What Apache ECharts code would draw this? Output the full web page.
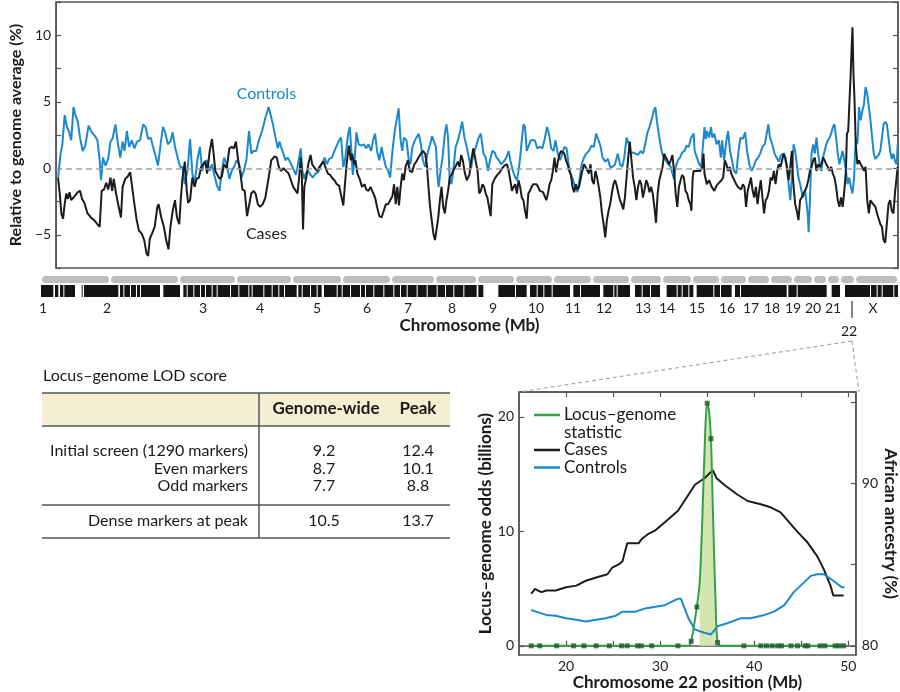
<!DOCTYPE html>
<html>
<head>
<meta charset="utf-8">
<script src="https://cdn.jsdelivr.net/npm/echarts@6/dist/echarts.min.js"></script>
<style>
html,body{margin:0;padding:0;background:#fff;}
#chart{width:900px;height:692px;}
</style>
</head>
<body>
<div id="chart"></div>
<script>
// ---------------- DATA ----------------
// Top panel: genome-wide admixture (relative to genome average, %), position along concatenated genome
const controlsData = [[6,-0.7],[13,1.0],[19,1.8],[26,4.0],[33,3.1],[39,2.8],[46,2.1],[53,4.6],[59,4.0],[66,3.5],[73,2.3],[81,1.3],[89,1.7],[99,3.2],[109,2.7],[119,2.4],[126,2.1],[133,0.6],[137,-0.9],[143,0.8],[151,0.2],[159,0.7],[166,2.0],[173,2.3],[181,3.3],[189,1.8],[196,0.8],[203,2.0],[209,1.3],[216,2.8],[223,1.6],[231,2.1],[239,1.5],[247,2.0],[256,2.1],[266,3.3],[273,3.1],[281,2.2],[289,2.3],[296,1.6],[303,1.0],[311,0.2],[319,1.8],[326,3.1],[333,2.7],[341,1.8],[349,2.0],[356,2.7],[363,1.6],[371,0.8],[379,0.1],[386,0.1],[393,-1.2],[401,-0.2],[409,2.2],[416,-0.4],[423,-1.2],[431,0.6],[439,1.6],[446,-0.2],[453,0.5],[461,0.6],[469,-0.2],[476,0.3],[483,-0.5],[491,-1.3],[499,-1.7],[506,-0.2],[513,0.8],[521,0.3],[529,-0.8],[536,-0.2],[543,0.1],[551,0.6],[559,0.3],[566,-0.7],[573,-0.2],[581,0.6],[589,2.8],[596,1.1],[603,1.3],[611,1.3],[619,2.1],[629,2.8],[639,3.8],[649,4.6],
[654,4.6],[662,3.3],[670,2.3],[677,1.5],[682,2.0],[687,1.6],[694,1.1],[700,0.6],[707,0.8],[714,0.5],[720,0.6],[727,-0.2],[732,-0.5],[737,0.1],[742,0.8],[747,1.5],[752,-0.2],[757,-0.8],[762,-0.4],[770,-0.2],[777,-0.5],[784,-0.7],[792,-0.4],[800,-0.3],[807,0.1],[814,0.5],[820,0.8],[827,0.3],[834,0.7],[842,0.8],[850,1.3],[857,1.7],[864,2.1],[870,2.3],[877,0.1],[882,0.6],[887,1.6],[892,2.6],[897,3.1],[902,3.2],[906,-0.5],[912,0.8],[917,2.7],[924,1.8],[932,1.7],[940,1.8],[947,1.5],[954,1.8],[962,1.3],[968,2.1],[974,2.6],[980,1.3],[987,0.6],[994,1.6],[1000,0.8],[1007,0.1],[1014,-0.2],[1020,-0.7],[1027,1.3],[1034,2.8],[1040,2.7],[1046,4.5],[1052,2.1],[1057,1.3],[1062,2.3],[1070,2.1],[1077,0.6],[1082,0.3],[1088,1.6],[1094,2.0],[1100,2.3],[1107,2.6],[1114,1.8],[1120,0.6],[1127,0.1],[1134,1.1],[1142,1.8],[1148,2.4],[1154,2.3],[1160,1.6],[1164,-0.4],[1168,-1.4],[1174,-0.2],[1180,0.8],[1187,2.6],[1192,3.3],[1197,2.3],[1202,-0.9],[1207,-1.2],[1212,-0.4],[1220,1.6],[1227,2.1],[1234,2.8],[1240,3.5],[1247,2.3],[1254,1.6],[1262,0.6],[1267,0],[1274,1.0],[1282,1.6],[1290,2.3],[1297,2.6],
[1305,1.1],[1312,0.8],[1319,-0.2],[1325,0.6],[1332,1.3],[1339,1.2],[1345,0.8],[1352,0.6],[1359,0.3],[1367,0.5],[1375,0.8],[1382,1.3],[1387,0.6],[1395,-0.2],[1402,-0.7],[1407,-0.9],[1412,-0.2],[1417,0.8],[1422,2.1],[1427,3.3],[1432,3.1],[1437,1.3],[1442,1.6],[1449,2.1],[1455,2.2],[1462,2.1],[1469,1.5],[1477,1.6],[1485,1.5],[1492,2.2],[1499,3.1],[1505,2.6],[1512,1.5],[1519,1.3],[1525,2.1],[1532,1.1],[1539,0.6],[1545,1.0],[1552,1.6],[1559,1.5],[1565,0.3],[1572,-0.5],[1579,-0.9],[1585,-1.4],[1592,-1.8],[1599,-0.7],[1605,0.3],[1612,0.8],[1619,1.1],[1627,1.3],[1635,1.7],[1642,1.6],[1649,2.6],[1655,2.6],[1662,1.7],[1669,0.8],[1677,0.5],[1685,0.7],[1692,0.1],[1699,0.1],[1707,0.3],[1715,1.1],[1722,0.3],[1729,0.1],[1735,0.8],[1742,2.3],[1749,1.8],[1755,1.1],[1762,1.2],[1769,1.1],[1777,1.0],[1785,1.3],[1792,1.1],[1799,1.8],[1805,2.6],[1812,3.1],[1819,3.7],[1825,4.3],[1830,4.6],[1835,3.5],[1842,2.3],[1849,1.3],[1855,0.8],[1862,0.6],[1869,0.3],[1877,0.1],[1882,-0.4],[1887,-0.8],[1892,0.1],[1899,0.6],[1905,0.8],[1912,1.2],[1919,1.3],[1925,1.7],[1932,1.6],[1939,2.3],[1947,2.6],
[1950,1.3],[1957,0.8],[1964,0.3],[1970,0.1],[1974,1.3],[1980,3.1],[1984,2.2],[1988,2.8],[1994,2.3],[2000,3.1],[2004,2.3],[2010,2.6],[2017,1.8],[2024,2.1],[2030,0.8],[2034,2.1],[2040,0.6],[2047,2.1],[2052,2.8],[2058,1.3],[2064,0.6],[2070,-0.2],[2077,-0.4],[2084,1.3],[2090,2.3],[2097,2.2],[2104,2.7],[2110,1.3],[2117,0.3],[2124,-0.2],[2130,0.1],[2137,0.6],[2144,0.8],[2150,1.1],[2157,1.6],[2164,1.8],[2170,2.6],[2175,3.3],[2180,2.3],[2187,1.8],[2194,1.1],[2200,0.8],[2207,0.5],[2214,1.0],[2222,1.1],[2230,0.3],[2237,-1.2],[2242,-2.4],[2247,-0.7],[2252,1.8],[2257,1.3],[2262,0.3],[2267,-0.7],[2274,-1.4],[2280,-2.2],[2287,-1.7],[2292,-2.7],[2296,-3.7],[2298,-4.8],[2302,-2.4],[2307,1.1],[2312,1.8],[2317,1.1],[2322,2.3],[2327,1.1],[2332,0.3],[2337,-0.2],[2342,0.8],[2347,1.3],[2352,1.8],[2357,2.1],[2362,2.3],[2367,2.6],[2372,3.1],[2377,3.3],[2382,2.3],[2387,1.1],[2392,0.3],[2397,0.8],[2402,1.3],[2407,0.6],[2412,-0.2],[2417,-1.2],[2422,-0.7],[2427,-1.4],[2432,-1.9],[2437,-0.7],[2440,1.3],[2444,2.3],[2447,1.8],[2452,4.6],[2457,3.6],[2462,4.3],[2467,4.8],[2472,6.1],[2477,5.6],[2482,4.6],[2487,3.6],[2492,2.3],[2497,1.1],[2502,0.7],[2507,0.8],[2512,1.0],[2517,1.3],[2522,2.3],[2527,3.3],[2532,3.5],[2537,3.3],[2542,2.3],[2547,1.3],[2552,0.7],[2557,1.1],[2562,0.5],[2567,0.3],[2570,1.8]];

const casesData = [[6,-0.7],[11,-1.9],[16,-3.4],[21,-3.8],[26,-2.7],[31,-1.9],[36,-2.3],[41,-1.8],[46,-2.4],[53,-2.2],[59,-2.3],[66,-1.8],[73,-1.7],[79,-2.3],[86,-2.6],[96,-3.4],[106,-3.7],[116,-3.9],[126,-4.2],[133,-4.4],[139,-1.7],[146,-1.6],[153,-1.1],[159,-1.6],[166,-0.7],[171,-1.7],[176,-0.8],[183,-1.9],[191,-2.9],[198,-3.7],[203,-1.4],[211,-0.8],[219,-0.6],[226,-0.3],[231,-1.2],[239,-2.7],[246,-3.9],[253,-4.7],[261,-4.9],[269,-5.4],[276,-6.4],[281,-6.6],[286,-5.3],[293,-4.9],[301,-4.4],[309,-2.9],[313,-2.7],[321,-3.7],[329,-4.4],[336,-5.4],[343,-6.1],[349,-4.4],[356,-3.2],[363,-2.4],[369,-3.7],[376,-4.2],[381,-2.2],[386,-0.7],[393,0.5],[399,-1.7],[403,-2.6],[409,-2.4],[416,-0.7],[423,-1.4],[429,-0.8],[436,-0.7],[443,0.1],[449,0.3],[456,0.5],[461,-0.4],[469,1.3],[476,2.2],[481,1.1],[486,-0.2],[491,-0.2],[499,-0.8],[506,-0.6],[513,0.3],[521,0],[529,1.5],[536,1.6],[543,1.5],[549,2.0],[556,0.6],[563,-0.4],[569,-1.6],[576,-1.7],[583,-3.6],[589,-3.7],[596,-1.9],[603,-1.7],[609,-1.9],[616,-2.7],[623,-2.9],[631,-2.7],[639,-2.2],[649,-0.7],
[657,0.6],[667,0.9],[674,0.8],[680,0.1],[687,-0.2],[694,0],[702,-0.2],[710,-0.4],[717,-0.9],[724,-1.4],[730,-1.4],[737,-1.9],[742,-0.7],[747,0.8],[750,-0.2],[754,-4.6],[758,-1.4],[764,-0.7],[770,0.3],[777,1.0],[782,0.3],[790,0],[797,-0.2],[804,0.1],[810,0.3],[817,0.5],[822,0.1],[830,-0.4],[837,-0.5],[842,-0.7],[850,-0.9],[857,-1.2],[864,-1.3],[870,-1.4],[877,-2.8],[882,-1.2],[887,0.3],[894,1.7],[900,0.6],[904,1.1],[910,0.3],[914,0.6],[920,-0.4],[927,-0.8],[934,-1.4],[942,-1.2],[947,-1.6],[954,-1.7],[960,-1.4],[967,-1.8],[974,-2.2],[980,-2.9],[987,-3.6],[994,-3.7],[1000,-3.6],[1007,-2.7],[1014,-2.7],[1020,-2.4],[1027,-2.1],[1032,-1.2],[1037,-2.7],[1042,-1.4],[1047,-2.8],[1052,-1.4],[1057,-0.4],[1062,-0.9],[1067,0.1],[1074,0.6],[1080,-0.2],[1087,-0.3],[1094,0.3],[1100,0.5],[1107,0.8],[1114,1.1],[1120,1.3],[1127,1.1],[1132,0.3],[1137,-1.4],[1142,-2.9],[1147,-3.9],[1152,-4.9],[1157,-5.4],[1162,-5.4],[1167,-3.7],[1172,-2.4],[1177,-1.4],[1182,-2.9],[1187,-3.4],[1192,-2.4],[1197,-1.7],[1202,-0.7],[1207,-0.5],[1212,-0.2],[1217,0],[1222,0.1],[1227,0.5],[1232,0.1],[1237,1.0],[1242,0.6],[1247,-0.2],[1254,-0.9],[1262,-0.5],[1267,0.5],[1274,1.5],[1280,1.6],[1287,-0.2],[1292,-1.9],[1297,-1.7],
[1302,-1.2],[1307,-1.4],[1312,-1.9],[1317,-2.2],[1322,-2.9],[1327,-3.6],[1332,-1.2],[1339,-0.8],[1347,-0.5],[1355,-0.3],[1362,0],[1369,0.2],[1377,0.3],[1382,-0.2],[1387,-0.9],[1392,-1.7],[1397,-1.4],[1402,-1.2],[1407,-1.9],[1412,-0.9],[1417,-1.4],[1422,-2.2],[1427,-2.4],[1432,-3.2],[1437,-3.8],[1442,-1.9],[1447,-1.7],[1452,-1.4],[1457,-1.2],[1462,-1.1],[1467,-1.2],[1472,-1.4],[1477,-1.7],[1482,-1.7],[1487,-1.8],[1492,-2.1],[1497,-2.4],[1502,-1.9],[1507,-1.2],[1512,-0.9],[1517,-0.2],[1522,0.8],[1527,-0.3],[1532,0.5],[1537,1.0],[1542,1.3],[1547,1.2],[1552,1.1],[1557,0.6],[1562,0.3],[1567,-0.2],[1572,-0.5],[1577,-1.4],[1582,-1.8],[1587,-1.2],[1592,-1.6],[1597,-1.4],[1605,-0.4],[1612,0.3],[1619,0],[1627,-0.4],[1632,0.3],[1637,-0.9],[1642,-1.2],[1647,-0.2],[1652,-0.7],[1657,-1.4],[1662,-2.2],[1667,-3.4],[1672,-4.2],[1677,-5.2],[1682,-3.9],[1687,-3.2],[1692,-2.7],[1697,-1.9],[1702,-1.2],[1707,-0.9],[1712,-1.3],[1717,-1.9],[1722,-2.4],[1727,-2.7],[1732,-3.1],[1737,-2.2],[1742,-0.7],[1747,0.8],[1752,2.0],[1757,0.6],[1762,-0.7],[1767,-1.4],[1772,-2.4],[1777,-1.4],[1782,-0.9],[1787,-1.2],[1792,-2.2],[1797,-1.6],[1802,-0.9],[1807,-1.2],[1812,-1.8],[1817,-1.4],[1822,-1.9],[1827,-2.9],[1832,-4.1],[1837,-1.9],[1842,-0.9],[1847,-0.4],[1852,0.1],[1857,1.1],[1862,0.8],[1867,0.6],[1872,0.3],[1877,0.6],[1882,1.0],[1887,-0.2],[1892,-1.9],[1897,-2.9],[1902,-1.4],[1907,-0.9],[1912,-0.5],[1917,-0.7],[1922,-1.7],[1927,-1.9],[1932,-2.4],[1937,-2.7],
[1940,-3.2],[1944,-0.7],[1947,-0.2],[1952,-0.2],[1960,-0.2],[1967,-0.2],[1974,0.1],[1977,1.1],[1980,-0.4],[1987,-1.2],[1994,-0.9],[2002,-1.4],[2010,-1.7],[2017,-1.3],[2024,-1.1],[2032,-0.9],[2037,-0.7],[2042,0.6],[2047,0.3],[2052,-0.2],[2057,0.1],[2062,-0.4],[2067,-0.7],[2072,-0.7],[2077,-1.2],[2082,-1.4],[2087,-1.3],[2092,-1.6],[2097,-1.2],[2102,-1.4],[2107,-2.9],[2112,-1.7],[2117,-1.2],[2122,-0.7],[2127,-1.7],[2132,-2.2],[2137,-1.4],[2142,-2.7],[2147,-1.7],[2152,-0.9],[2157,-2.2],[2162,-3.4],[2167,-2.4],[2172,-2.2],[2177,-1.7],[2182,-0.7],[2187,-0.9],[2192,-0.2],[2197,-1.2],[2202,-0.2],[2207,0.3],[2212,0.1],[2217,0.6],[2222,1.1],[2227,0.8],[2232,0.1],[2237,-0.9],[2242,0.1],[2247,1.3],[2250,-0.7],[2254,-1.9],[2257,-2.7],[2262,-3.2],[2267,-3.9],[2272,-2.4],[2277,-2.2],[2282,-1.9],[2287,-1.7],[2292,-1.4],[2297,-0.9],[2302,-0.2],[2307,0.1],[2312,0.6],[2317,0.8],[2322,-0.2],[2327,0.3],[2332,0.1],[2337,0.3],[2342,0.8],[2347,0.6],[2352,0.3],[2357,0.1],[2362,-0.2],[2367,0.1],[2372,-0.4],[2377,-0.7],[2382,-1.4],[2387,-2.4],[2392,-2.9],[2397,-2.2],[2402,-2.9],[2407,-1.7],[2412,-0.2],[2415,2.6],[2419,2.8],[2422,4.6],[2426,6.8],[2429,8.8],[2432,10.6],[2435,7.1],[2438,5.3],[2442,1.8],[2447,0.3],[2452,0.6],[2457,0.3],[2462,0.1],[2467,-0.2],[2472,0.1],[2477,-2.4],[2482,-3.4],[2487,-2.4],[2492,-2.6],[2497,-2.7],[2502,-2.9],[2507,-3.4],[2512,-3.8],[2517,-4.2],[2522,-4.4],[2527,-5.4],[2532,-5.6],[2537,-5.7],[2542,-2.7],[2547,-2.4],[2552,-3.2],[2557,-3.4],[2562,-1.8],[2567,-1.9],[2570,0.1]];

const genomeLength = 2571;
const yTicksTop = [-7.5, 12.5];
// chromosome boundaries on the same genome scale
const chromEdges = [0,207,414,585,753,903,1050,1182,1308,1422,1536,1653,1767,1863,1953,2037,2118,2187,2256,2316,2358,2397,2442,2571];
const chromLabelNames = ['1','2','3','4','5','6','7','8','9','10','11','12','13','14','15','16','17','18','19','20','21','X'];
const chromLabelPos = [6,198,486,657,828,978,1101,1233,1356,1485,1596,1689,1806,1878,1968,2058,2130,2193,2256,2316,2376,2496];
const chr22Pos = 2424;
// marker-density gaps (white stripes) in the marker band
const markerGaps = [[37,42],[52,57],[67,70],[102,122],[125,129],[232,237],[247,250],[267,270],[285,288],[297,300],[357,367],[417,427],[437,440],[457,460],[477,480],[492,495],[512,515],[527,530],[567,570],[592,595],[622,625],[632,635],[667,670],[692,695],[712,715],[729,732],[767,772],[782,785],[807,810],[827,830],[842,849],[887,890],[902,905],[927,930],[957,960],[972,975],[997,1000],[1027,1030],[1057,1060],[1077,1080],[1097,1100],[1127,1130],[1157,1160],[1187,1190],[1212,1215],[1237,1240],[1267,1270],[1307,1312],[1327,1372],[1422,1425],[1457,1467],[1487,1490],[1507,1510],[1532,1535],[1587,1597],[1617,1620],[1677,1687],[1717,1720],[1727,1730],[1767,1782],[1802,1805],[1827,1830],[1857,1877],[1907,1910],[1922,1925],[1942,1945],[1957,1967],[2017,2020],[2037,2040],[2072,2082],[2097,2100],[2237,2242],[2267,2270],[2357,2372],[2397,2412],[2487,2490],[2507,2510],[2522,2525],[2557,2560]];

// Lower-right panel: chromosome 22 detail
const casesAncestry = [[16.3,83.2],[16.7,83.5],[17.0,83.4],[17.4,83.3],[17.9,83.4],[18.9,83.4],[20.0,83.6],[21.1,83.7],[22.1,84.0],[23.2,84.2],[24.4,84.4],[24.9,84.8],[25.6,85.0],[26.0,85.2],[26.5,86.3],[27.0,86.3],[27.7,86.3],[28.1,86.6],[28.8,86.9],[29.5,87.1],[30.5,87.6],[31.9,88.3],[32.8,89.1],[33.7,89.9],[34.7,90.3],[35.6,90.8],[36.0,90.3],[36.8,89.9],[38.2,89.3],[39.3,88.9],[40.7,88.7],[41.8,88.5],[42.8,88.2],[43.7,87.6],[44.6,87.0],[45.6,86.4],[46.7,85.5],[47.4,84.7],[48.1,83.7],[48.4,83.1],[48.8,83.1],[49.5,83.1]];
const controlsAncestry = [[16.3,82.2],[16.8,82.1],[17.9,81.9],[18.9,81.85],[20.0,81.7],[21.1,81.6],[22.1,81.5],[23.2,81.6],[24.2,81.7],[25.3,81.85],[26.0,82.1],[27.4,82.1],[28.4,82.3],[29.5,82.4],[30.5,82.5],[31.9,82.9],[32.2,82.9],[33.0,81.7],[33.7,81.0],[34.7,80.8],[35.4,80.7],[36.1,81.2],[37.2,81.4],[38.6,81.7],[39.6,81.7],[41.1,81.9],[42.1,82.1],[43.2,82.5],[44.2,83.3],[45.3,83.9],[46.0,84.3],[46.7,84.4],[47.4,84.4],[48.4,84.0],[49.3,83.6],[49.6,83.6]];
const locusCurve = [[16.3,0],[33.0,0],[33.3,0.4],[33.9,3.4],[34.2,5.5],[34.5,11.5],[34.8,19],[35.0,21.2],[35.2,20.5],[35.4,18.1],[35.6,12],[35.9,3.5],[36.1,0.3],[36.5,0],[49.5,0]];
const locusPeakArea = [[34.2,5.5],[34.5,11.5],[34.8,19],[35.0,21.2],[35.2,20.5],[35.4,18.1],[35.6,12],[35.9,3.5]];
const locusMarkers = [[16.3,0],[17.2,0],[19.0,0],[20.8,0],[21.9,0],[23.2,0],[24.6,0],[25.9,0],[26.5,0],[27.6,0],[28.0,0],[29.1,0],[31.9,0],[33.3,0.4],[33.9,3.4],[35.0,21.2],[35.4,18.1],[36.1,0.3],[38.9,0],[40.7,0],[41.3,0],[41.9,0],[42.5,0],[42.9,0],[43.9,0],[44.6,0],[45.4,0],[45.7,0],[47.0,0],[47.5,0],[48.6,0],[49.0,0],[49.5,0]];
const chr22Ticks = [20,25,30,35,40,45,50];
const chr22Labels = [20,30,40,50];
const oddsTicks = [0,10,20];
const ancestryTicks = [80,85,90,95];
const ancestryLabels = [80,90];

// Table
const tableTitle = 'Locus\u2013genome LOD score';
const tableHeaders = ['Genome-wide','Peak'];
const tableRows = ['Initial screen (1290 markers)','Even markers','Odd markers','Dense markers at peak'];
const genomeWideLOD = ['9.2','8.7','7.7','10.5'];
const peakLOD = ['12.4','10.1','8.8','13.7'];

// ---------------- LAYOUT / STYLE ----------------
const FONT = 'Lato, "Noto Sans", sans-serif';
const BLUE = '#1b88cf', BLACK = '#1c1c1c', GREEN = '#34a04a', DKGREEN = '#1d5c28', FRAME = '#555';
const G0 = {left:41, top:2, width:857, height:266};
const G1 = {left:41, top:276, width:857, height:21};
const G2 = {left:519, top:392, width:340, height:265};

const chart = echarts.init(document.getElementById('chart'), null, {renderer:'canvas'});

function ideoRenderer(kind){
  return function(params, api){
    const a = api.coord([api.value(0), 1]);
    const b = api.coord([api.value(1), 0]);
    const top = a[1], bottom = b[1];
    if (kind === 'chrom') {
      return {type:'rect', shape:{x:a[0]+1, y:top, width:Math.max(b[0]-a[0]-2,1), height:7, r:3.5}, style:{fill:'#bdbdbd'}};
    }
    return {type:'rect', shape:{x:a[0], y:top+9, width:Math.max(b[0]-a[0],1), height:bottom-top-9}, style:{fill: kind==='band' ? '#141414' : '#ffffff'}};
  };
}
const chromSegments = chromEdges.slice(0,-1).map((s,i)=>[s, chromEdges[i+1]]);

const axisLineStyle = {color:FRAME, width:1.5};
const option = {
  animation:false,
  backgroundColor:'#fff',
  textStyle:{fontFamily:FONT},
  grid:[
    Object.assign({show:true, borderColor:FRAME, borderWidth:1.5, backgroundColor:'transparent'}, G0),
    Object.assign({}, G1),
    Object.assign({show:true, borderColor:FRAME, borderWidth:1.5, backgroundColor:'transparent'}, G2)
  ],
  xAxis:[
    {gridIndex:0, type:'value', min:0, max:genomeLength, show:false, splitLine:{show:false}},
    {gridIndex:1, type:'value', min:0, max:genomeLength, splitLine:{show:false},
      axisLine:{show:false}, axisTick:{show:false},
      axisLabel:{customValues:chromLabelPos, margin:4, fontSize:14, color:'#222', fontFamily:FONT,
        formatter:(v)=>{const i = chromLabelPos.indexOf(v); return i>=0 ? chromLabelNames[i] : '';}},
      name:'Chromosome (Mb)', nameLocation:'middle', nameGap:20,
      nameTextStyle:{fontSize:17, fontWeight:'bold', color:'#1a1a1a', fontFamily:FONT}},
    {gridIndex:2, type:'value', min:15, max:50.8, position:'bottom', splitLine:{show:false},
      axisLine:{show:true, lineStyle:axisLineStyle},
      axisTick:{show:true, inside:true, length:5, customValues:chr22Ticks, lineStyle:{color:FRAME, width:1.2}},
      axisLabel:{customValues:chr22Labels, margin:4, fontSize:14, color:'#222', fontFamily:FONT},
      name:'Chromosome 22 position (Mb)', nameLocation:'middle', nameGap:16,
      nameTextStyle:{fontSize:17, fontWeight:'bold', color:'#1a1a1a', fontFamily:FONT}},
    {gridIndex:2, type:'value', min:15, max:50.8, position:'top', splitLine:{show:false},
      axisLine:{show:true, lineStyle:axisLineStyle},
      axisTick:{show:true, inside:true, length:5, customValues:chr22Ticks, lineStyle:{color:FRAME, width:1.2}},
      axisLabel:{show:false}}
  ],
  yAxis:[
    {gridIndex:0, type:'value', min:yTicksTop[0], max:yTicksTop[1], interval:2.5, position:'left', splitLine:{show:false},
      axisLine:{show:true, lineStyle:axisLineStyle},
      axisTick:{show:true, inside:true, length:5, lineStyle:{color:FRAME, width:1.2}},
      axisLabel:{margin:5, fontSize:14, color:'#222', fontFamily:FONT,
        formatter:(v)=>{ if (Math.abs(v % 5) > 1e-6) return ''; if (Math.abs(v) >= 10.1) return ''; return v < 0 ? '\u2212' + Math.abs(v) : String(v); }},
      name:'Relative to genome average (%)', nameLocation:'middle', nameGap:23, nameRotate:90,
      nameTextStyle:{fontSize:16, fontWeight:'bold', color:'#1a1a1a', fontFamily:FONT}},
    {gridIndex:0, type:'value', min:yTicksTop[0], max:yTicksTop[1], interval:2.5, position:'right', splitLine:{show:false},
      axisLine:{show:true, lineStyle:axisLineStyle},
      axisTick:{show:true, inside:true, length:5, lineStyle:{color:FRAME, width:1.2}},
      axisLabel:{show:false}},
    {gridIndex:1, type:'value', min:0, max:1, show:false, splitLine:{show:false}},
    {gridIndex:2, type:'value', min:-0.81, max:22.18, position:'left', splitLine:{show:false},
      axisLine:{show:true, lineStyle:axisLineStyle},
      axisTick:{show:true, inside:true, length:5, customValues:oddsTicks, lineStyle:{color:FRAME, width:1.2}},
      axisLabel:{customValues:oddsTicks, margin:5, fontSize:14, color:'#222', fontFamily:FONT},
      name:'Locus\u2013genome odds (billions)', nameLocation:'middle', nameGap:21, nameRotate:90,
      nameTextStyle:{fontSize:17, fontWeight:'bold', color:'#1a1a1a', fontFamily:FONT}},
    {gridIndex:2, type:'value', min:79.43, max:95.6, position:'right', splitLine:{show:false},
      axisLine:{show:true, lineStyle:axisLineStyle},
      axisTick:{show:true, inside:true, length:5, customValues:ancestryTicks, lineStyle:{color:FRAME, width:1.2}},
      axisLabel:{customValues:ancestryLabels, margin:6, fontSize:14, color:'#222', fontFamily:FONT},
      name:'African ancestry (%)', nameLocation:'middle', nameGap:23, nameRotate:-90,
      nameTextStyle:{fontSize:17, fontWeight:'bold', color:'#1a1a1a', fontFamily:FONT}}
  ],
  series:[
    {name:'Controls', type:'line', xAxisIndex:0, yAxisIndex:0, data:controlsData, showSymbol:false, symbol:'none',
      lineStyle:{color:BLUE, width:2}, z:3,
      markLine:{silent:true, symbol:'none', label:{show:false}, data:[{yAxis:0}],
        lineStyle:{type:[6,4], color:'#a0a0a0', width:1.5}}},
    {name:'Cases', type:'line', xAxisIndex:0, yAxisIndex:0, data:casesData, showSymbol:false, symbol:'none',
      lineStyle:{color:BLACK, width:2}, z:4},
    {name:'chromosomes', type:'custom', xAxisIndex:1, yAxisIndex:2, renderItem:ideoRenderer('chrom'),
      data:chromSegments, encode:{x:[0,1]}, silent:true},
    {name:'markerBand', type:'custom', xAxisIndex:1, yAxisIndex:2, renderItem:ideoRenderer('band'),
      data:[[0, genomeLength]], encode:{x:[0,1]}, silent:true, z:2},
    {name:'markerGaps', type:'custom', xAxisIndex:1, yAxisIndex:2, renderItem:ideoRenderer('gap'),
      data:markerGaps, encode:{x:[0,1]}, silent:true, z:3},
    {name:'peakArea', type:'line', xAxisIndex:2, yAxisIndex:3, data:locusPeakArea, smooth:0.3, symbol:'none',
      lineStyle:{width:0}, areaStyle:{color:'#d3e6b0', opacity:1}, z:1, silent:true},
    {name:'Cases22', type:'line', xAxisIndex:2, yAxisIndex:4, data:casesAncestry, symbol:'none',
      lineStyle:{color:BLACK, width:2}, z:3},
    {name:'Controls22', type:'line', xAxisIndex:2, yAxisIndex:4, data:controlsAncestry, symbol:'none',
      lineStyle:{color:BLUE, width:2}, z:3},
    {name:'Locus\u2013genome statistic', type:'line', xAxisIndex:2, yAxisIndex:3, data:locusCurve, smooth:0.3, symbol:'none',
      lineStyle:{color:GREEN, width:2}, z:4},
    {name:'markers', type:'scatter', xAxisIndex:2, yAxisIndex:3, data:locusMarkers, symbol:'rect', symbolSize:5,
      itemStyle:{color:DKGREEN}, z:5}
  ]
};
chart.setOption(option);

// ---------- annotations (text labels, legend, table, connector) ----------
function txt(text, x, y, opts){
  opts = opts || {};
  return {type:'text', silent:true, z:100, style:{
    text:text, x:x, y:y, fill:opts.fill || '#1a1a1a',
    font:(opts.weight || 'normal') + ' ' + (opts.size || 16) + 'px ' + FONT,
    textAlign:opts.align || 'left', textVerticalAlign:'middle', align:opts.align || 'left', verticalAlign:'middle'}};
}
function seg(x1,y1,x2,y2,stroke,w,dash){
  return {type:'line', silent:true, z:90, shape:{x1:x1,y1:y1,x2:x2,y2:y2},
    style:{stroke:stroke, lineWidth:w, lineDash:dash || null}};
}
const g = [];
// series labels in top panel
const pC = chart.convertToPixel({xAxisIndex:0, yAxisIndex:0}, [642, 5.6]);
const pK = chart.convertToPixel({xAxisIndex:0, yAxisIndex:0}, [642, -4.9]);
g.push(txt('Controls', pC[0], pC[1], {fill:BLUE, align:'center', size:16}));
g.push(txt('Cases', pK[0], pK[1], {fill:BLACK, align:'center', size:16}));
// chromosome 22 marker
const x22 = chart.convertToPixel({xAxisIndex:1}, chr22Pos);
const bandBottom = G1.top + G1.height;
g.push(seg(x22+3, bandBottom+4, x22+3, bandBottom+21, '#333', 1.2));
g.push(txt('22', x22, bandBottom+34, {size:14, align:'center'}));
// connector from chr 22 to detail panel
g.push(seg(x22+3, bandBottom+44, G2.left, G2.top, '#aaaaaa', 1.2, [4,3]));
g.push(seg(x22+3, bandBottom+44, G2.left+G2.width, G2.top, '#aaaaaa', 1.2, [4,3]));
// legend inside detail panel
const lx = G2.left + 15, ly = G2.top + 23;
const legendItems = [
  {color:GREEN, lines:['Locus\u2013genome','statistic']},
  {color:BLACK, lines:['Cases']},
  {color:BLUE, lines:['Controls']}
];
let row = 0;
legendItems.forEach(it=>{
  const y = ly + row*17.5;
  g.push(seg(lx, y, lx+26, y, it.color, 2.5));
  it.lines.forEach((t,k)=>{ g.push(txt(t, lx+30, y + k*17.5, {size:17})); });
  row += it.lines.length;
});
// table
const tL = 42, tR = 450, tV = 259;
const yTop = 393, yHead = 426, yMid = 505, yBot = 538;
g.push(txt(tableTitle, 43, 376, {size:16}));
g.push({type:'rect', silent:true, z:80, shape:{x:tL, y:yTop, width:tR-tL, height:yHead-yTop}, style:{fill:'#f4eed3'}});
g.push(seg(tL, yTop, tR, yTop, FRAME, 1.5));
g.push(seg(tL, yHead, tR, yHead, FRAME, 1.5));
g.push(seg(tL, yMid, tR, yMid, FRAME, 1.5));
g.push(seg(tL, yBot, tR, yBot, FRAME, 1.5));
g.push(seg(tV, yTop, tV, yBot, FRAME, 1.5));
const colGW = 324, colPk = 418;
g.push(txt(tableHeaders[0], 326, 409, {weight:'bold', size:17, align:'center'}));
g.push(txt(tableHeaders[1], colPk, 409, {weight:'bold', size:17, align:'center'}));
const rowY = [451, 469, 486, 521];
tableRows.forEach((r,i)=>{
  g.push(txt(r, 248, rowY[i], {size:16, align:'right'}));
  g.push(txt(genomeWideLOD[i], colGW, rowY[i], {size:16, align:'center'}));
  g.push(txt(peakLOD[i], colPk, rowY[i], {size:16, align:'center'}));
});
chart.setOption({graphic:{elements:g}});
</script>
</body>
</html>
